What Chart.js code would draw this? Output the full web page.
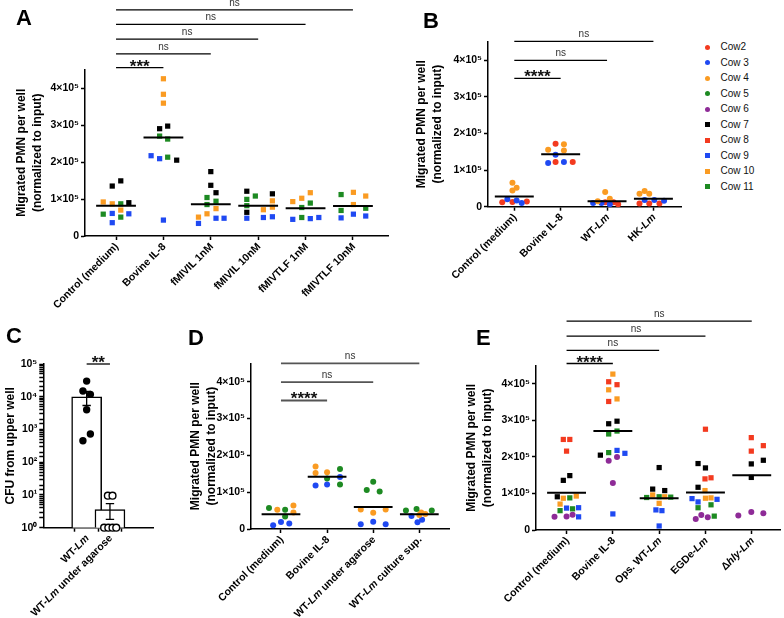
<!DOCTYPE html>
<html lang="en">
<head>
<meta charset="UTF-8">
<title>PMN migration</title>
<script src="https://cdn.jsdelivr.net/npm/chart.js"></script>
<style>
    html, body { margin: 0; padding: 0; background: #fff; }
    #fig { position: relative; width: 784px; height: 618px; overflow: hidden; font-family: Arial, "Liberation Sans", sans-serif; }
    #fig canvas { position: absolute; }
    .letter { position: absolute; font-weight: bold; font-size: 22px; line-height: 22px; }
    .leg-mark { position: absolute; }
    .leg-text { position: absolute; font-size: 10px; line-height: 14px; color: #111; }
</style>
</head>
<body>
<div id="fig">
    <canvas id="chartA" width="392" height="320" style="left:0px;top:0px"></canvas>
    <canvas id="chartB" width="298" height="300" style="left:392px;top:0px"></canvas>
    <canvas id="chartC" width="186" height="298" style="left:0px;top:320px"></canvas>
    <canvas id="chartD" width="272" height="298" style="left:186px;top:320px"></canvas>
    <canvas id="chartE" width="324" height="338" style="left:460px;top:280px"></canvas>
    <div class="letter" style="left:16px;top:7px">A</div>
    <div class="letter" style="left:423px;top:10px">B</div>
    <div class="letter" style="left:6px;top:325px">C</div>
    <div class="letter" style="left:188px;top:327px">D</div>
    <div class="letter" style="left:476px;top:327px">E</div>
    <div id="legend"></div>
</div>

<script>
    // couleurs des vaches
    const RED = '#f33a1f', BLUE = '#1f49f2', ORANGE = '#fa9b22', GREEN = '#1d8a22', PURPLE = '#8e2b97', BLACK = '#000000';
    const FONT = 'Arial, "Liberation Sans", sans-serif';

    // ---- Panel A (values x10^5, points are [x position, value]) ----
    const catsA = ['Control (medium)', 'Bovine IL-8', 'fMIVIL 1nM', 'fMIVIL 10nM', 'fMIVTLF 1nM', 'fMIVTLF 10nM'];
    const meansA = [0.82, 2.66, 0.86, 0.82, 0.75, 0.81];
    const aCow7 = [[-0.08, 1.35], [0.10, 1.49], [0.27, 0.90], [0.92, 2.90], [1.09, 2.97], [1.28, 2.05], [2.00, 1.74], [2.00, 1.37], [2.11, 1.17], [2.76, 1.21], [2.76, 0.64], [3.30, 1.14]];
    const aCow9 = [[-0.08, 0.61], [0.27, 0.60], [-0.08, 0.36], [0.74, 2.17], [0.92, 2.09], [1.00, 0.43], [1.74, 0.34], [2.11, 0.48], [2.28, 0.48], [2.76, 0.48], [3.11, 0.50], [3.30, 0.52], [3.73, 0.45], [4.10, 0.47], [4.28, 0.50], [4.75, 0.49], [5.01, 0.59], [5.27, 0.54]];
    const aCow10 = [[-0.27, 0.92], [-0.08, 0.87], [0.10, 0.70], [1.00, 4.25], [1.00, 3.83], [1.00, 3.59], [2.11, 0.74], [1.92, 0.60], [1.74, 0.51], [3.30, 0.95], [3.30, 0.78], [3.11, 0.71], [3.73, 0.93], [3.92, 1.02], [4.10, 1.17], [5.01, 1.18], [5.27, 1.08], [5.01, 0.85]];
    const aCow11 = [[0.10, 0.87], [-0.27, 0.59], [0.10, 0.51], [0.92, 2.70], [1.09, 2.62], [1.09, 2.13], [1.92, 1.04], [1.92, 0.85], [2.11, 0.94], [2.76, 0.99], [2.76, 0.82], [2.94, 1.08], [3.92, 0.77], [4.10, 0.89], [3.92, 0.50], [4.75, 1.12], [4.75, 0.69], [5.27, 0.75]];
    const sigA = [[0, 1, 4.55, '***'], [0, 2, 4.92, 'ns'], [0, 3, 5.32, 'ns'], [0, 4, 5.72, 'ns'], [0, 5, 6.11, 'ns']];

    // ---- Panel B ----
    const catsB = ['Control (medium)', 'Bovine IL-8', 'WT-<i>Lm</i>', 'HK-<i>Lm</i>'];
    const meansB = [0.28, 1.43, 0.15, 0.22];
    const bCow2 = [[-0.26, 0.12], [-0.04, 0.13], [0.27, 0.14], [0.89, 1.72], [0.89, 1.22], [1.26, 1.22], [1.96, 0.12], [2.14, 0.12], [2.24, 0.07], [2.70, 0.09], [2.91, 0.09], [3.13, 0.09]];
    const bCow3 = [[-0.15, 0.20], [0.05, 0.17], [0.16, 0.10], [0.89, 1.42], [0.73, 1.19], [1.07, 1.22], [1.70, 0.10], [1.88, 0.10], [2.06, 0.07], [2.81, 0.18], [3.02, 0.18], [3.23, 0.16]];
    const bCow4 = [[-0.04, 0.65], [0.05, 0.52], [-0.04, 0.44], [1.07, 1.70], [0.73, 1.55], [1.07, 1.53], [1.96, 0.40], [1.80, 0.15], [2.06, 0.22], [2.70, 0.35], [2.81, 0.43], [2.91, 0.35]];
    const sigB = [[0, 1, 3.5, '****'], [0, 2, 3.99, 'ns'], [0, 3, 4.51, 'ns']];

    const legendNames = ['Cow2', 'Cow 3', 'Cow 4', 'Cow 5', 'Cow 6', 'Cow 7', 'Cow 8', 'Cow 9', 'Cow 10', 'Cow 11'];
    const legendColors = [RED, BLUE, ORANGE, GREEN, PURPLE, BLACK, RED, BLUE, ORANGE, GREEN];
    const legendShapes = ['circle', 'circle', 'circle', 'circle', 'circle', 'rect', 'rect', 'rect', 'rect', 'rect'];

    // ---- Panel C (CFU, log scale) ----
    const catsC = ['WT-<i>Lm</i>', 'WT-<i>Lm</i> under agarose'];
    const cfuMean = [1.0e4, 3.6];
    const cfuSem = [4.6e3, 1.8];
    const cfuWT = [[0, 3.0e4], [-0.16, 1.5e4], [0.16, 1.18e4], [0, 4.0e3], [-0.16, 455], [0.16, 730]];
    const cfuAgarose = [[0.91, 9.5], [1.11, 9.5], [0.75, 1], [0.93, 1], [1.11, 1], [1.27, 1]];
    const sigC = [[0, 1, 1.0e5, '**']];

    // ---- Panel D ----
    const catsD = ['Control (medium)', 'Bovine IL-8', 'WT-<i>Lm</i> under agarose', 'WT-<i>Lm</i> culture sup.'];
    const meansD = [0.40, 1.42, 0.60, 0.40];
    const dCow3 = [[-0.17, 0.10], [0.00, 0.19], [0.18, 0.15], [0.75, 1.18], [1.00, 1.21], [1.28, 1.41], [1.73, 0.13], [2.00, 0.20], [2.27, 0.13], [2.83, 0.35], [3.06, 0.25], [2.96, 0.18]];
    const dCow4 = [[-0.08, 0.52], [0.27, 0.64], [0.27, 0.45], [0.75, 1.70], [0.75, 1.52], [1.00, 1.54], [1.73, 0.53], [2.00, 0.44], [2.27, 0.53], [3.04, 0.45], [3.13, 0.41], [3.00, 0.38]];
    const dCow5 = [[-0.26, 0.57], [0.09, 0.52], [0.09, 0.34], [1.28, 1.63], [1.00, 1.37], [1.28, 1.21], [2.00, 1.28], [1.86, 1.06], [2.14, 1.02], [2.71, 0.50], [2.94, 0.54], [3.27, 0.50]];
    const sigD = [[0, 1, 3.49, '****'], [0, 2, 3.99, 'ns'], [0, 3, 4.5, 'ns']];

    // ---- Panel E ----
    const catsE = ['Control (medium)', 'Bovine IL-8', 'Ops. WT-<i>Lm</i>', 'EGDe-<i>Lm</i>', 'Δ<i>hly</i>-<i>Lm</i>'];
    const meansE = [1.02, 2.71, 0.87, 1.03, 1.50];
    const eCow6 = [[-0.26, 0.36], [0.00, 0.37], [0.13, 0.42], [0.91, 1.90], [1.09, 2.00], [1.00, 1.29], [2.79, 0.30], [2.91, 0.41], [3.05, 0.35], [3.71, 0.40], [3.99, 0.49], [4.25, 0.46]];
    const eCow7 = [[0.07, 1.49], [-0.07, 1.36], [-0.20, 0.91], [0.91, 2.91], [1.09, 2.98], [0.73, 2.05], [2.00, 1.71], [1.86, 1.12], [2.12, 1.08], [2.84, 1.82], [3.00, 1.70], [2.84, 1.17], [3.99, 1.81], [4.25, 1.91], [3.99, 1.44]];
    const eCow8 = [[-0.07, 2.48], [0.07, 2.48], [0.00, 2.16], [0.91, 4.06], [1.09, 3.98], [0.91, 3.52], [3.00, 2.76], [2.99, 1.40], [3.12, 1.43], [3.99, 2.53], [4.25, 2.31], [3.99, 2.16]];
    const eCow9 = [[0.00, 0.60], [0.26, 0.61], [0.26, 0.36], [1.09, 2.18], [1.26, 2.10], [1.00, 0.44], [1.93, 0.55], [2.06, 0.53], [2.00, 0.11], [2.71, 0.86], [2.84, 0.77], [3.25, 0.84]];
    const eCow10 = [[-0.07, 0.87], [0.21, 0.93], [-0.14, 0.71], [1.00, 4.27], [0.91, 3.84], [1.09, 3.59], [1.86, 0.96], [2.12, 0.91], [2.00, 0.73], [2.99, 1.08], [3.00, 0.87], [3.12, 0.88]];
    const eCow11 = [[0.07, 0.88], [-0.14, 0.53], [0.13, 0.58], [0.91, 2.63], [1.09, 2.71], [0.91, 2.12], [1.73, 0.89], [2.00, 0.91], [2.25, 0.90], [2.84, 0.61], [3.12, 0.69], [3.19, 0.38]];
    const sigE = [[0, 1, 4.56, '****'], [0, 2, 4.92, 'ns'], [0, 3, 5.31, 'ns'], [0, 4, 5.72, 'ns']];

    const pmnTitle = ['Migrated PMN per well', '(normalized to input)'];
    const SUP = ['⁰', '¹', '²', '³', '⁴', '⁵'];

    // étiquettes des catégories, inclinées, avec italique
    const catLabels = {
        id: 'catLabels',
        afterDraw(chart, args, opts) {
            const ctx = chart.ctx, sx = chart.scales.x;
            opts.cats.forEach((label, i) => {
                const parts = label.split(/(<i>.*?<\/i>)/).filter(Boolean).map(p =>
                    p.startsWith('<i>') ? { t: p.slice(3, -4), it: true } : { t: p, it: false });
                const fontFor = p => (p.it ? 'italic ' : '') + 'bold 10.5px ' + FONT;
                let total = 0;
                parts.forEach(p => { ctx.font = fontFor(p); p.w = ctx.measureText(p.t).width; total += p.w; });
                ctx.save();
                ctx.translate(sx.getPixelForValue(i) + 1, sx.top + 9);
                ctx.rotate(-Math.PI / 4);
                ctx.textBaseline = 'middle';
                ctx.textAlign = 'left';
                ctx.fillStyle = '#000';
                let x = -total;
                parts.forEach(p => { ctx.font = fontFor(p); ctx.fillText(p.t, x, 0); x += p.w; });
                ctx.restore();
            });
        }
    };

    // barres de significativité
    const sigBars = {
        id: 'sigBars',
        afterDraw(chart, args, opts) {
            const ctx = chart.ctx, sx = chart.scales.x, sy = chart.scales.y;
            ctx.save();
            ctx.textAlign = 'center';
            ctx.textBaseline = 'alphabetic';
            opts.items.forEach(([a, b, v, txt]) => {
                const x1 = sx.getPixelForValue(a), x2 = sx.getPixelForValue(b), y = sy.getPixelForValue(v);
                ctx.strokeStyle = opts.color;
                ctx.lineWidth = opts.width;
                ctx.beginPath();
                ctx.moveTo(x1, y);
                ctx.lineTo(x2, y);
                ctx.stroke();
                const star = txt.includes('*');
                ctx.font = star ? 'bold 17px ' + FONT : '10px ' + FONT;
                ctx.fillStyle = star ? '#111' : '#333';
                ctx.fillText(txt, (x1 + x2) / 2, star ? y + 4 : y - 4);
            });
            ctx.restore();
        }
    };

    // barres d'erreur (SEM) du panel C
    const errBars = {
        id: 'errBars',
        afterDatasetDraw(chart, args, opts) {
            if (args.index !== opts.index) return;
            const ctx = chart.ctx, sx = chart.scales.x, sy = chart.scales.y;
            ctx.save();
            ctx.strokeStyle = '#000';
            ctx.lineWidth = 1.3;
            opts.means.forEach((m, i) => {
                const x = sx.getPixelForValue(i);
                const half = sx.getPixelForValue(i + 0.18) - x;
                const yHi = sy.getPixelForValue(m + opts.sems[i]);
                const yLo = sy.getPixelForValue(m - opts.sems[i]);
                ctx.beginPath();
                ctx.moveTo(x, yLo); ctx.lineTo(x, yHi);
                ctx.moveTo(x - half, yHi); ctx.lineTo(x + half, yHi);
                ctx.moveTo(x - half, yLo); ctx.lineTo(x + half, yLo);
                ctx.stroke();
            });
            ctx.restore();
        }
    };

    function pts(arr) {
        return arr.map(([x, y]) => ({ x, y }));
    }

    function cowSet(arr, color, shape) {
        return {
            type: 'scatter', data: pts(arr), order: 1, clip: false,
            backgroundColor: color, borderWidth: 0,
            pointStyle: shape, pointRadius: shape === 'rect' ? 3.7 : 3
        };
    }

    function meanSet(means) {
        const d = [];
        means.forEach((m, i) => {
            d.push({ x: i - 0.42, y: m }, { x: i + 0.42, y: m }, { x: i + 0.5, y: null });
        });
        return { type: 'line', data: d, order: 0, clip: false, borderColor: '#000', borderWidth: 2, pointRadius: 0, spanGaps: false };
    }

    function axisStyle() {
        return {
            border: { color: '#000', width: 1.5 },
            grid: { drawOnChartArea: false, tickLength: 4, tickColor: '#000', tickWidth: 1.5 }
        };
    }

    function makeChart(id, g, xr, cats, datasets, yScale, plugins, pluginOpts, type) {
        const x = Object.assign(axisStyle(), {
            type: 'linear', min: xr[0], max: xr[1],
            afterFit: s => { s.height = g.y + g.h - g.b; },
            afterBuildTicks: s => { s.ticks = cats.map((_, i) => ({ value: i })); },
            ticks: { callback: () => '', autoSkip: false }
        });
        const y = Object.assign(axisStyle(), yScale, {
            afterFit: s => { s.width = g.l - g.x; }
        });
        y.title = {
            display: true, text: g.title, color: '#000',
            font: { family: FONT, size: 12, weight: 'bold', lineHeight: 1.333 },
            padding: { top: g.tpad, bottom: 0 }
        };
        pluginOpts.legend = { display: false };
        pluginOpts.tooltip = { enabled: false };
        pluginOpts.catLabels = { cats };
        return new Chart(document.getElementById(id), {
            type: type || 'scatter',
            data: { datasets },
            plugins: [catLabels].concat(plugins),
            options: {
                responsive: false, animation: false, devicePixelRatio: 1,
                layout: { padding: { top: g.t - g.y, right: g.x + g.w - g.r, bottom: 0, left: 0 } },
                scales: { x, y },
                plugins: pluginOpts
            }
        });
    }

    function pmnY() {
        return {
            type: 'linear', min: 0, max: 4.5,
            ticks: {
                stepSize: 1, includeBounds: false, color: '#000', padding: 2,
                font: { family: FONT, size: 10.5, weight: 'bold' },
                callback: v => v === 0 ? '0' : v + '×10⁵'
            }
        };
    }

    // Panel A
    makeChart('chartA', { x: 0, y: 0, w: 392, h: 320, l: 85, t: 69.5, r: 388, b: 236, tpad: 14, title: pmnTitle },
        [-0.655, 5.74], catsA,
        [meanSet(meansA), cowSet(aCow7, BLACK, 'rect'), cowSet(aCow10, ORANGE, 'rect'), cowSet(aCow11, GREEN, 'rect'), cowSet(aCow9, BLUE, 'rect')],
        pmnY(), [sigBars], { sigBars: { items: sigA, color: '#000', width: 1.3 } });

    // Panel B
    makeChart('chartB', { x: 392, y: 0, w: 298, h: 300, l: 488, t: 41.7, r: 681.7, b: 206.7, tpad: 21.5, title: pmnTitle },
        [-0.567, 3.61], catsB,
        [meanSet(meansB), cowSet(bCow4, ORANGE, 'circle'), cowSet(bCow3, BLUE, 'circle'), cowSet(bCow2, RED, 'circle')],
        pmnY(), [sigBars], { sigBars: { items: sigB, color: '#000', width: 1.3 } });

    // Panel C
    makeChart('chartC', { x: 0, y: 320, w: 186, h: 298, l: 43.3, t: 364, r: 153.3, b: 527.7, tpad: 3, title: 'CFU from upper well' },
        [-0.68, 1.68], catsC,
        [
            { type: 'scatter', data: pts(cfuWT), order: 0, clip: false, backgroundColor: '#000', borderWidth: 0, pointRadius: 3.7 },
            { type: 'scatter', data: pts(cfuAgarose), order: 0, clip: false, backgroundColor: '#fff', borderColor: '#000', borderWidth: 1.4, pointRadius: 3.4 },
            { type: 'bar', data: cfuMean.map((m, i) => ({ x: i, y: m })), order: 2, backgroundColor: '#fff', borderColor: '#000', borderWidth: 1.5, barThickness: 30 }
        ],
        {
            type: 'logarithmic', min: 1, max: 1e5,
            ticks: {
                autoSkip: false, color: '#000', padding: 2,
                font: { family: FONT, size: 10.5, weight: 'bold' },
                callback: v => {
                    const l = Math.log10(v);
                    return Math.abs(l - Math.round(l)) < 1e-6 ? '10' + SUP[Math.round(l)] : '';
                }
            }
        },
        [sigBars, errBars],
        { sigBars: { items: sigC, color: '#000', width: 1.3 }, errBars: { index: 2, means: cfuMean, sems: cfuSem } },
        'bar');

    // Panel D
    makeChart('chartD', { x: 186, y: 320, w: 272, h: 298, l: 251, t: 363.3, r: 449.3, b: 529, tpad: 2, title: pmnTitle },
        [-0.65, 3.65], catsD,
        [meanSet(meansD), cowSet(dCow5, GREEN, 'circle'), cowSet(dCow4, ORANGE, 'circle'), cowSet(dCow3, BLUE, 'circle')],
        pmnY(), [sigBars], { sigBars: { items: sigD, color: '#555', width: 1.8 } });

    // Panel E
    makeChart('chartE', { x: 460, y: 280, w: 324, h: 338, l: 536, t: 365.7, r: 781.7, b: 530, tpad: 4, title: pmnTitle },
        [-0.66, 4.61], catsE,
        [meanSet(meansE), cowSet(eCow8, RED, 'rect'), cowSet(eCow7, BLACK, 'rect'), cowSet(eCow10, ORANGE, 'rect'),
         cowSet(eCow11, GREEN, 'rect'), cowSet(eCow9, BLUE, 'rect'), cowSet(eCow6, PURPLE, 'circle')],
        pmnY(), [sigBars], { sigBars: { items: sigE, color: '#000', width: 1.3 } });

    // légende du panel B
    const leg = document.getElementById('legend');
    legendNames.forEach((name, i) => {
        const yc = 47.3 + 15.5 * i;
        const m = document.createElement('div');
        m.className = 'leg-mark';
        const s = legendShapes[i] === 'circle' ? 5.2 : 4.8;
        m.style.cssText = `left:${707.3 - s / 2}px;top:${yc - s / 2}px;width:${s}px;height:${s}px;background:${legendColors[i]};` +
            (legendShapes[i] === 'circle' ? 'border-radius:50%;' : '');
        leg.appendChild(m);
        const t = document.createElement('div');
        t.className = 'leg-text';
        t.style.left = '720.5px';
        t.style.top = (yc - 7) + 'px';
        t.textContent = name;
        leg.appendChild(t);
    });
</script>
</body>
</html>
